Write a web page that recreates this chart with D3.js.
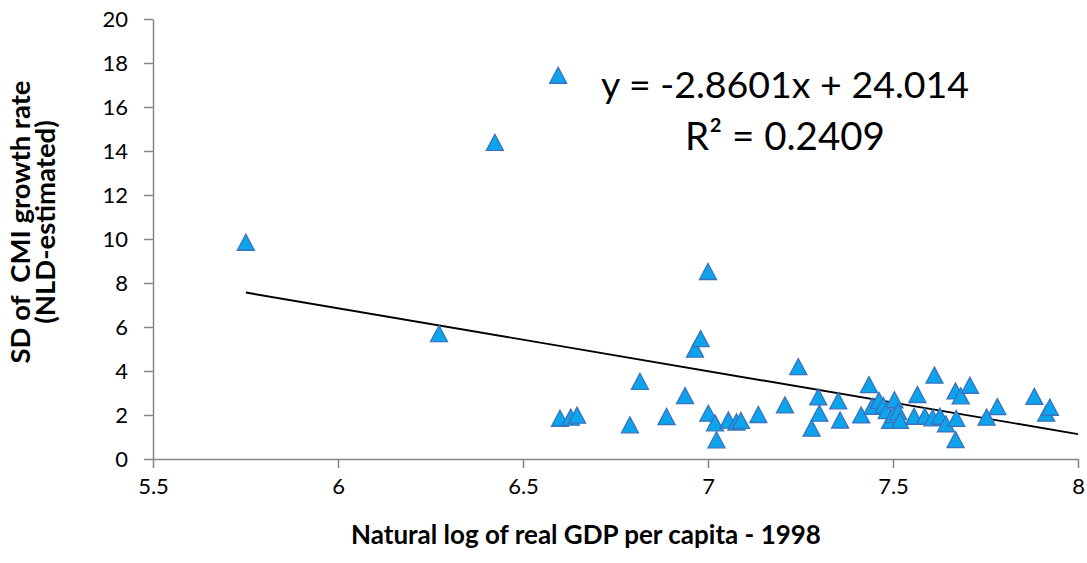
<!DOCTYPE html>
<html>
<head>
<meta charset="utf-8">
<script src="https://cdn.jsdelivr.net/npm/d3@7"></script>
<style>
    body { margin: 0; background: #fff; }
    text { font-family: Lato, "Open Sans", sans-serif; fill: #000; }
</style>
</head>
<body>
<div id="scatterGdp"><svg></svg></div>
<script>
/** Chart data **/
var gdpLog = [
    5.751, 6.273, 6.424, 6.595, 6.600, 6.629, 6.646, 6.789, 6.816, 6.888,
    6.938, 6.965, 6.980, 7.000, 7.001, 7.019, 7.023, 7.055, 7.077, 7.089,
    7.136, 7.208, 7.244, 7.280, 7.298, 7.301, 7.352, 7.357, 7.414, 7.435,
    7.444, 7.462, 7.474, 7.483, 7.492, 7.501, 7.504, 7.514, 7.519, 7.557,
    7.566, 7.586, 7.607, 7.612, 7.627, 7.643, 7.669, 7.671, 7.669, 7.683,
    7.708, 7.753, 7.782, 7.882, 7.914, 7.924
];
var sdCmi = [
    9.83, 5.68, 14.37, 17.42, 1.83, 1.88, 1.97, 1.53, 3.51, 1.91,
    2.86, 4.97, 5.45, 8.50, 2.06, 1.62, 0.85, 1.75, 1.66, 1.73,
    2.00, 2.44, 4.18, 1.38, 2.80, 2.06, 2.62, 1.75, 1.98, 3.36,
    2.37, 2.64, 2.41, 2.18, 1.73, 1.99, 2.67, 2.13, 1.73, 1.92,
    2.91, 1.92, 1.85, 3.79, 1.92, 1.57, 3.07, 1.82, 0.86, 2.85,
    3.33, 1.88, 2.36, 2.82, 2.06, 2.33
];
var xTicks = [5.5, 6, 6.5, 7, 7.5, 8];
var yTicks = [0, 2, 4, 6, 8, 10, 12, 14, 16, 18, 20];
var trendSlope = -2.8601;
var trendIntercept = 24.014;
var trendLabel = "y = -2.8601x + 24.014";
var r2Label = "R\u00b2 = 0.2409";
var xTitle = "Natural log of real GDP per capita - 1998";
var yTitleLines = ["SD of  CMI growth rate", "(NLD-estimated)"];


function drawModule_scatter()
{
    var mod_width = 1087;
    var mod_height = 563;
    var chart_Xoffset = 153;
    var chart_Yoffset = 19;
    var chart_width = 925;
    var chart_height = 440;

    var color_axis   = '#868686';
    var color_fill   = '#0CA4EA';
    var color_stroke = '#3A72C0';

    var svg = d3.select("#scatterGdp").select("svg")
        .attr("width", mod_width)
        .attr("height", mod_height);

    var xScale = d3.scaleLinear()
        .domain([5.5, 8])
        .range([chart_Xoffset, chart_Xoffset + chart_width]);

    var yScale = d3.scaleLinear()
        .domain([0, 20])
        .range([chart_Yoffset + chart_height, chart_Yoffset]);

    var xAxis = d3.axisBottom(xScale)
        .tickValues(xTicks)
        .tickSizeInner(9)
        .tickSizeOuter(0)
        .tickPadding(10)
        .tickFormat(d3.format(""));

    var yAxis = d3.axisLeft(yScale)
        .tickValues(yTicks)
        .tickSizeInner(9)
        .tickSizeOuter(0)
        .tickPadding(16);

    var gx = svg.append("g")
        .attr("transform", "translate(0," + yScale(0) + ")")
        .call(xAxis);

    var gy = svg.append("g")
        .attr("transform", "translate(" + xScale(5.5) + ",0)")
        .call(yAxis);

    [gx, gy].forEach(function (g) {
        g.attr("font-family", null).attr("font-size", null);
        g.selectAll("path, line")
            .attr("stroke", color_axis)
            .attr("stroke-width", 1.5);
        g.selectAll("text")
            .style("font-size", "22px")
            .attr("fill", "#000");
    });

    // Trendline from first data point to axis end.
    var x0 = d3.min(gdpLog);
    var x1 = 8;
    svg.append("line")
        .attr("x1", xScale(x0))
        .attr("y1", yScale(trendSlope * x0 + trendIntercept))
        .attr("x2", xScale(x1))
        .attr("y2", yScale(trendSlope * x1 + trendIntercept))
        .attr("stroke", "#000")
        .attr("stroke-width", 1.9);

    var points = gdpLog.map(function (v, i) {
        return { x: v, y: sdCmi[i] };
    });

    svg.append("g")
        .selectAll("path")
        .data(points)
        .enter()
        .append("path")
        .attr("d", "M0,-8.5L8.5,7.5L-8.5,7.5Z")
        .attr("transform", function (d) {
            return "translate(" + xScale(d.x) + "," + yScale(d.y) + ")";
        })
        .attr("fill", color_fill)
        .attr("stroke", color_stroke)
        .attr("stroke-width", 1.3);

    // Regression label.
    svg.append("text")
        .attr("x", 785)
        .attr("y", 98)
        .attr("text-anchor", "middle")
        .style("font-size", "37.5px")
        .text(trendLabel);

    svg.append("text")
        .attr("x", 785)
        .attr("y", 150)
        .attr("text-anchor", "middle")
        .style("font-size", "38.5px")
        .text(r2Label);

    // Axis titles.
    svg.append("text")
        .attr("x", 586)
        .attr("y", 544)
        .attr("text-anchor", "middle")
        .style("font-size", "26px")
        .style("font-weight", "bold")
        .text(xTitle);

    var yTitle = svg.append("text")
        .attr("transform", "translate(0,222) rotate(-90)")
        .attr("text-anchor", "middle")
        .attr("xml:space", "preserve")
        .style("font-size", "27.5px")
        .style("font-weight", "bold");

    yTitleLines.forEach(function (line, i) {
        yTitle.append("tspan")
            .attr("x", 0)
            .attr("y", 30 + i * 25)
            .text(line);
    });
}

drawModule_scatter();
</script>
</body>
</html>
